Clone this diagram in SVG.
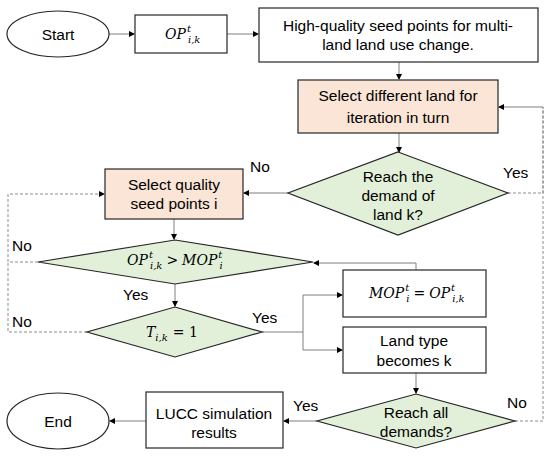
<svg xmlns="http://www.w3.org/2000/svg" width="550" height="457" viewBox="0 0 550 457">
<defs>
<marker id="ah" markerWidth="6" markerHeight="6" refX="5" refY="3" orient="auto" markerUnits="userSpaceOnUse">
<path d="M0,0 L6,3 L0,6 Z" fill="#000"/>
</marker>
<style>
.box{fill:#fff;stroke:#262626;stroke-width:1.2}
.peach{fill:#fbe5d6;stroke:#262626;stroke-width:1.2}
.dia{fill:#e2f0d9;stroke:#262626;stroke-width:1.2}
.t{font-family:"Liberation Sans",Arial,sans-serif;font-size:15.5px;fill:#000}
.c{text-anchor:middle}
.m{font-family:"DejaVu Serif","Liberation Serif",serif;font-style:italic;font-size:14px;fill:#000}
.s{font-size:10px}
.ln{fill:none;stroke:#7f7f7f;stroke-width:1}
.dl{fill:none;stroke:#8c8c8c;stroke-width:1;stroke-dasharray:3,2}
</style>
</defs>
<rect width="550" height="457" fill="#fff"/>

<g id="connectors">
<path class="ln" d="M109,34 H134" marker-end="url(#ah)"/>
<path class="ln" d="M227,34 H258" marker-end="url(#ah)"/>
<path class="ln" d="M399,62 V79" marker-end="url(#ah)"/>
<path class="ln" d="M399,133 V152" marker-end="url(#ah)"/>
<path class="ln" d="M288,193 H244" marker-end="url(#ah)"/>
<path class="dl" d="M508,193 H543 V107"/>
<path class="dl" d="M515,421 H543 V107"/>
<path class="ln" d="M543,107 H499" marker-end="url(#ah)"/>
<path class="ln" d="M174,219 V239" marker-end="url(#ah)"/>
<path class="dl" d="M38,262 H8 V194 H104" marker-end="url(#ah)"/>
<path class="dl" d="M87,332 H8 V262"/>
<path class="ln" d="M175,284 V306" marker-end="url(#ah)"/>
<path class="ln" d="M262,332 H303"/>
<path class="ln" d="M303,295 H342" marker-end="url(#ah)"/>
<path class="ln" d="M303,295 V350 H342" marker-end="url(#ah)"/>
<path class="ln" d="M416,270 V263 H314" marker-end="url(#ah)"/>
<path class="ln" d="M416,373 V393" marker-end="url(#ah)"/>
<path class="ln" d="M317,421 H284" marker-end="url(#ah)"/>
<path class="ln" d="M146,421 H110" marker-end="url(#ah)"/>
<text class="t" x="503" y="178">Yes</text>
<text class="t" x="250" y="172">No</text>
<text class="t" x="12" y="251">No</text>
<text class="t" x="123" y="300">Yes</text>
<text class="t" x="12" y="327">No</text>
<text class="t" x="252" y="323">Yes</text>
<text class="t" x="507" y="408">No</text>
<text class="t" x="293" y="411">Yes</text>
</g>

<g id="start">
<ellipse cx="58" cy="34" rx="51" ry="23" class="box"/>
<text class="t c" x="58" y="40" font-size="16">Start</text>
</g>

<g id="op">
<rect x="135" y="15" width="92" height="38" class="box"/>
<text class="m" x="165" y="39">OP<tspan class="s" dx="1" dy="-7">t</tspan><tspan class="s" dx="-3" dy="11">i,k</tspan></text>
</g>

<g id="seeds">
<rect x="259" y="8" width="279" height="54" class="box"/>
<text class="t c" x="398" y="31">High-quality seed points for multi-</text>
<text class="t c" x="398" y="50">land land use change.</text>
</g>

<g id="selectLand">
<rect x="298" y="80" width="200" height="53" class="peach"/>
<text class="t c" x="398" y="101">Select different land for</text>
<text class="t c" x="398" y="123">iteration in turn</text>
</g>

<g id="reachDemand">
<polygon points="398,152 508,193 398,235 288,193" class="dia"/>
<text class="t c" x="398" y="182">Reach the</text>
<text class="t c" x="398" y="201">demand of</text>
<text class="t c" x="398" y="220">land k?</text>
</g>

<g id="selectSeed">
<rect x="105" y="169" width="138" height="50" class="peach"/>
<text class="t c" x="174" y="190">Select quality</text>
<text class="t c" x="174" y="209">seed points i</text>
</g>

<g id="compare">
<polygon points="175,240 313,262 175,284 38,262" class="dia"/>
<text class="m" x="127" y="265">OP<tspan class="s" dx="1" dy="-7">t</tspan><tspan class="s" dx="-3" dy="11">i,k</tspan><tspan dx="4" dy="-4" font-style="normal">&gt;</tspan><tspan dx="4">MOP</tspan><tspan class="s" dx="1" dy="-7">t</tspan><tspan class="s" dx="-3" dy="11">i</tspan></text>
</g>

<g id="tcheck">
<polygon points="175,307 262,332 175,357 87,332" class="dia"/>
<text class="m" x="146" y="337">T<tspan class="s" dx="0" dy="4">i,k</tspan><tspan dx="5" dy="-4" font-style="normal">= 1</tspan></text>
</g>

<g id="mop">
<rect x="343" y="270" width="143" height="47" class="box"/>
<text class="m" x="369" y="298">MOP<tspan class="s" dx="1" dy="-7">t</tspan><tspan class="s" dx="-3" dy="11">i</tspan><tspan dx="4" dy="-4" font-style="normal">=</tspan><tspan dx="4">OP</tspan><tspan class="s" dx="1" dy="-7">t</tspan><tspan class="s" dx="-3" dy="11">i,k</tspan></text>
</g>

<g id="landType">
<rect x="343" y="327" width="143" height="46" class="box"/>
<text class="t c" x="414" y="346">Land type</text>
<text class="t c" x="414" y="366">becomes k</text>
</g>

<g id="reachAll">
<polygon points="416,394 515,421 416,448 317,421" class="dia"/>
<text class="t c" x="416" y="418">Reach all</text>
<text class="t c" x="416" y="437">demands?</text>
</g>

<g id="lucc">
<rect x="146" y="392" width="137" height="56" class="box"/>
<text class="t c" x="214" y="419">LUCC simulation</text>
<text class="t c" x="214" y="438">results</text>
</g>

<g id="end">
<ellipse cx="58" cy="421" rx="51" ry="28" class="box"/>
<text class="t c" x="58" y="427" font-size="16">End</text>
</g>
</svg>
